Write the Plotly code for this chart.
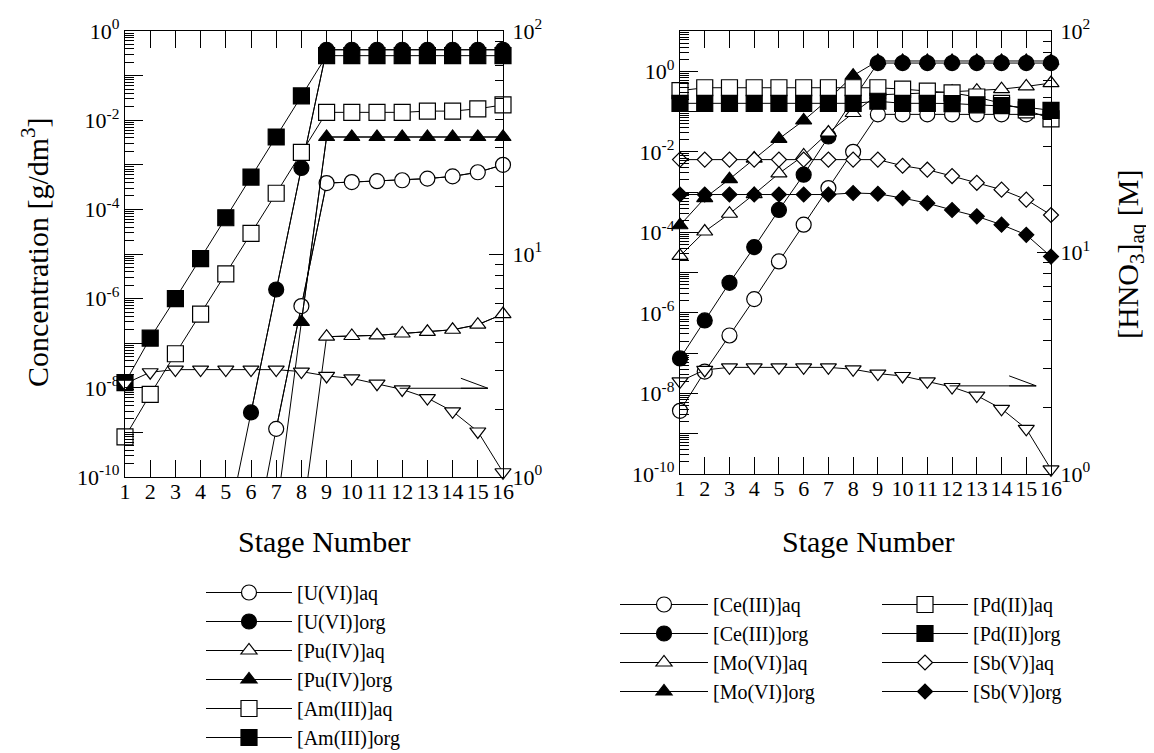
import plotly.graph_objects as go

# ---------------- data ----------------
stages = list(range(1, 17))

# left panel: actinides [g/dm3]
u_aq_stages = list(range(6, 17))
u_aq = [1.4e-12, 1.2e-9, 6.8e-7, 3.9e-4, 4.1e-4, 4.3e-4, 4.5e-4, 4.9e-4, 5.5e-4, 6.8e-4, 1.0e-3]
u_org_stages = list(range(5, 17))
u_org = [5.0e-12, 2.8e-9, 1.6e-6, 8.5e-4, 0.38, 0.38, 0.38, 0.38, 0.38, 0.38, 0.38, 0.38]
pu_aq_stages = list(range(8, 17))
pu_aq = [7.9e-12, 1.4e-7, 1.45e-7, 1.5e-7, 1.65e-7, 1.8e-7, 2.0e-7, 2.6e-7, 4.5e-7]
pu_org_stages = list(range(7, 17))
pu_org = [1.5e-11, 3.0e-7, 4.2e-3, 4.2e-3, 4.2e-3, 4.2e-3, 4.2e-3, 4.2e-3, 4.2e-3, 4.2e-3]
am_aq = [7.9e-10, 7.1e-9, 5.8e-8, 4.5e-7, 3.6e-6, 2.9e-5, 2.3e-4, 1.9e-3,
         1.5e-2, 1.5e-2, 1.5e-2, 1.5e-2, 1.6e-2, 1.6e-2, 1.8e-2, 2.2e-2]
am_org = [1.3e-8, 1.3e-7, 1.0e-6, 7.9e-6, 6.5e-5, 5.3e-4, 4.2e-3, 3.5e-2,
          0.28, 0.28, 0.28, 0.28, 0.28, 0.28, 0.28, 0.28]

# HNO3 profile [M] (right axes)
hno3 = [2.62, 2.95, 3.03, 3.03, 3.03, 3.03, 3.03, 2.97, 2.84, 2.77, 2.62, 2.47, 2.26, 1.97, 1.60, 1.05]

# right panel: fission products [g/dm3]
ce_aq = [3.7e-9, 3.5e-8, 2.75e-7, 2.2e-6, 1.9e-5, 1.55e-4, 1.26e-3, 1.0e-2,
         8.5e-2, 8.5e-2, 8.5e-2, 8.5e-2, 8.5e-2, 8.5e-2, 8.5e-2, 8.5e-2]
ce_org = [7.4e-8, 6.5e-7, 5.6e-6, 4.3e-5, 3.6e-4, 2.7e-3, 2.4e-2, 0.20,
          1.6, 1.6, 1.6, 1.6, 1.6, 1.6, 1.6, 1.6]
mo_aq = [2.6e-5, 1.05e-4, 2.9e-4, 8.9e-4, 2.9e-3, 8.1e-3, 3.0e-2, 9.2e-2,
         0.26, 0.27, 0.29, 0.31, 0.33, 0.36, 0.42, 0.51]
mo_org = [1.5e-4, 7.1e-4, 2.1e-3, 6.8e-3, 2.1e-2, 6.0e-2, 0.20, 0.78,
          1.8, 1.8, 1.8, 1.8, 1.8, 1.8, 1.8, 1.8]
pd_aq = [0.33, 0.39, 0.39, 0.39, 0.39, 0.39, 0.39, 0.39,
         0.39, 0.36, 0.32, 0.29, 0.23, 0.16, 0.11, 0.066]
pd_org = [0.16, 0.16, 0.16, 0.16, 0.16, 0.16, 0.16, 0.16,
          0.18, 0.16, 0.16, 0.158, 0.147, 0.14, 0.128, 0.107]
sb_aq = [6.4e-3, 6.4e-3, 6.4e-3, 6.4e-3, 6.4e-3, 6.4e-3, 6.4e-3, 6.4e-3,
         6.4e-3, 4.5e-3, 3.6e-3, 2.5e-3, 1.7e-3, 1.15e-3, 6.5e-4, 2.7e-4]
sb_org = [8.7e-4, 8.7e-4, 8.7e-4, 8.7e-4, 8.7e-4, 8.7e-4, 8.7e-4, 9.5e-4,
          9.1e-4, 7.1e-4, 5.3e-4, 3.6e-4, 2.5e-4, 1.55e-4, 8.7e-5, 2.5e-5]

left_names = ["[U(VI)]aq", "[U(VI)]org", "[Pu(IV)]aq", "[Pu(IV)]org", "[Am(III)]aq", "[Am(III)]org"]
right_names = ["[Ce(III)]aq", "[Ce(III)]org", "[Mo(VI)]aq", "[Mo(VI)]org",
               "[Pd(II)]aq", "[Pd(II)]org", "[Sb(V)]aq", "[Sb(V)]org"]

# arrow marking the HNO3 curve (stage range, HNO3 value)
arrow_stage = [11.9, 15.4]
arrow_hno3 = 2.5

# ---------------- style / layout ----------------
FONT = "Liberation Serif, Times New Roman, serif"
W, H = 1154, 753
LEFT_YMIN, RIGHT_YMIN = 1e-10, 1e-10


def fx(p):
    return p / W


def fy(p):
    return 1 - p / H


fig = go.Figure()


def add_series(name, xs, ys, symbol, filled, size, xa, ya, legend, ymin):
    # segment towards points below the axis (line only, clipped by the axis)
    if any(v < ymin for v in ys):
        fig.add_trace(go.Scatter(x=xs, y=ys, mode="lines", xaxis=xa, yaxis=ya,
                                 line=dict(color="black", width=1),
                                 showlegend=False, hoverinfo="skip"))
    keep = [(x, y) for x, y in zip(xs, ys) if y >= ymin]
    fig.add_trace(go.Scatter(
        x=[k[0] for k in keep], y=[k[1] for k in keep], name=name,
        mode="lines+markers", xaxis=xa, yaxis=ya, legend=legend,
        line=dict(color="black", width=1),
        marker=dict(symbol=symbol, size=size, color="black" if filled else "white",
                    line=dict(color="black", width=1.2)),
        cliponaxis=False))


left_data = [(u_aq_stages, u_aq, "circle", False, 15),
             (u_org_stages, u_org, "circle", True, 15),
             (pu_aq_stages, pu_aq, "triangle-up", False, 14),
             (pu_org_stages, pu_org, "triangle-up", True, 14),
             (stages, am_aq, "square", False, 16),
             (stages, am_org, "square", True, 16)]
for nm, (xs, ys, sym, fil, sz) in zip(left_names, left_data):
    add_series(nm, xs, ys, sym, fil, sz, "x", "y", "legend", LEFT_YMIN)

fig.add_trace(go.Scatter(x=stages, y=hno3, mode="lines+markers", xaxis="x", yaxis="y2",
                         showlegend=False, line=dict(color="black", width=1),
                         marker=dict(symbol="triangle-down", size=14, color="white",
                                     line=dict(color="black", width=1.2)),
                         cliponaxis=False))

right_data = [(ce_aq, "circle", False, 15), (ce_org, "circle", True, 15),
              (mo_aq, "triangle-up", False, 14), (mo_org, "triangle-up", True, 14),
              (pd_aq, "square", False, 16), (pd_org, "square", True, 16),
              (sb_aq, "diamond", False, 11.5), (sb_org, "diamond", True, 11.5)]
for i, (nm, (ys, sym, fil, sz)) in enumerate(zip(right_names, right_data)):
    add_series(nm, stages, ys, sym, fil, sz, "x2", "y3", "legend2" if i < 4 else "legend3", RIGHT_YMIN)

fig.add_trace(go.Scatter(x=stages, y=hno3, mode="lines+markers", xaxis="x2", yaxis="y4",
                         showlegend=False, line=dict(color="black", width=1),
                         marker=dict(symbol="triangle-down", size=14, color="white",
                                     line=dict(color="black", width=1.2)),
                         cliponaxis=False))

tickfont = dict(family=FONT, size=22, color="black")


def sup(k):
    return "10<sup>%d</sup>" % k


def conc_axis(domain, anchor, kmin, kmax):
    decs = list(range(kmin, kmax + 1))
    return dict(type="log", range=[kmin, kmax], domain=domain, anchor=anchor,
                tickmode="array", tickvals=[10.0 ** k for k in decs],
                ticktext=[sup(k) if k % 2 == 0 and k <= 0 else "" for k in decs],
                ticks="inside", ticklen=18, tickwidth=1, tickcolor="black",
                minor=dict(tickmode="array",
                           tickvals=[m * 10.0 ** k for k in range(kmin, kmax) for m in range(2, 10)],
                           ticks="inside", ticklen=9, tickwidth=1, tickcolor="black"),
                showline=True, linecolor="black", linewidth=1.3, mirror=False,
                showgrid=False, zeroline=False, tickfont=tickfont)


def hno3_axis(overlay, anchor):
    return dict(type="log", range=[0, 2], overlaying=overlay, side="right", anchor=anchor,
                tickmode="array", tickvals=[1, 10, 100], ticktext=[sup(0), sup(1), sup(2)],
                ticks="inside", ticklen=14, tickwidth=1, tickcolor="black",
                ticklabelstandoff=4,
                minor=dict(tickmode="array",
                           tickvals=[m * 10.0 ** k for k in range(0, 2) for m in range(2, 10)],
                           ticks="inside", ticklen=8, tickwidth=1, tickcolor="black"),
                showline=True, linecolor="black", linewidth=1.3,
                showgrid=False, zeroline=False, tickfont=tickfont)


def stage_axis(domain, anchor):
    return dict(range=[1, 16], domain=domain, anchor=anchor, tickmode="array",
                tickvals=stages, ticktext=[str(s) for s in stages], tickangle=0,
                ticks="inside", ticklen=17, tickwidth=1, tickcolor="black",
                ticklabelstandoff=-6,
                showline=True, linecolor="black", linewidth=1.3, mirror="ticks",
                showgrid=False, zeroline=False, tickfont=tickfont)


legfont = dict(family=FONT, size=20, color="black")
fig.update_layout(
    width=W, height=H, margin=dict(l=0, r=0, t=0, b=0, autoexpand=False),
    paper_bgcolor="white", plot_bgcolor="white", showlegend=True,
    font=dict(family=FONT, color="black"),
    xaxis=stage_axis([fx(117), fx(495)], "y"),
    yaxis=conc_axis([fy(469), fy(23)], "x", -10, 0),
    yaxis2=hno3_axis("y", "x"),
    xaxis2=stage_axis([fx(672), fx(1043)], "y3"),
    yaxis3=conc_axis([fy(466), fy(23)], "x2", -10, 1),
    yaxis4=hno3_axis("y3", "x2"),
    legend=dict(x=fx(193), y=fy(565), xanchor="left", yanchor="top", font=legfont,
                itemwidth=86, bgcolor="rgba(0,0,0,0)", borderwidth=0),
    legend2=dict(x=fx(607), y=fy(577), xanchor="left", yanchor="top", font=legfont,
                 itemwidth=88, bgcolor="rgba(0,0,0,0)", borderwidth=0),
    legend3=dict(x=fx(869), y=fy(577), xanchor="left", yanchor="top", font=legfont,
                 itemwidth=86, bgcolor="rgba(0,0,0,0)", borderwidth=0),
)

titlefont = dict(family=FONT, size=30, color="black")
fig.add_annotation(text="Concentration [g/dm<sup>3</sup>]", xref="paper", yref="paper",
                   x=fx(27), y=fy(244), textangle=-90, showarrow=False, font=titlefont,
                   xanchor="center", yanchor="middle")
fig.add_annotation(text="[HNO<sub>3</sub>]<sub>aq</sub> [M]", xref="paper", yref="paper",
                   x=fx(1122), y=fy(247), textangle=-90, showarrow=False, font=titlefont,
                   xanchor="center", yanchor="middle")
for cx in (316, 860):
    fig.add_annotation(text="Stage Number", xref="paper", yref="paper",
                       x=fx(cx), y=fy(533), showarrow=False, font=titlefont,
                       xanchor="center", yanchor="middle")

# arrows pointing to the HNO3 (right) axis
for xr, yr in (("x", "y2"), ("x2", "y4")):
    fig.add_shape(type="line", xref=xr, yref=yr, x0=arrow_stage[0], x1=arrow_stage[1],
                  y0=arrow_hno3, y1=arrow_hno3, line=dict(color="black", width=1))
    for dy in (-10, 10):
        fig.add_shape(type="line", xref=xr, yref=yr, xsizemode="pixel", ysizemode="pixel",
                      xanchor=arrow_stage[1], yanchor=arrow_hno3, x0=-27, x1=0, y0=dy, y1=0,
                      line=dict(color="black", width=1))

fig.write_html("out.html")
